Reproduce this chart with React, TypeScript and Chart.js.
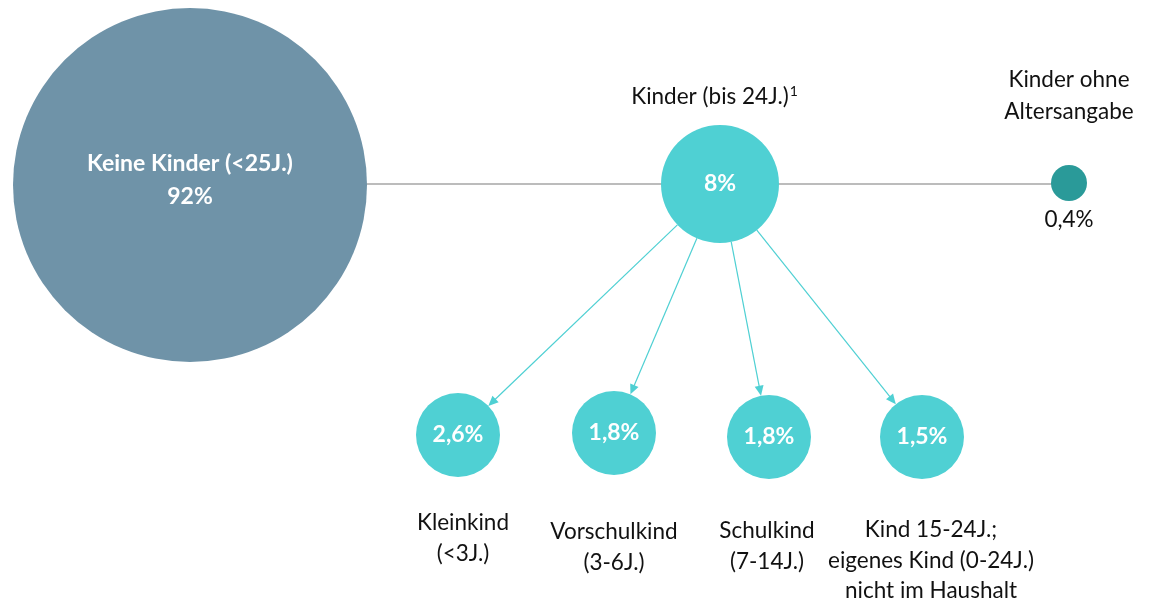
import React, { useEffect, useRef } from "react";
import { Chart, registerables } from "chart.js";

Chart.register(...registerables);

// Node data
const nodeIds = ["keine", "kinder", "ohne", "klein", "vorschul", "schul", "kind15"];
const nodeValues = ["92%", "8%", "0,4%", "2,6%", "1,8%", "1,8%", "1,5%"];
const nodeLabels: string[][] = [
  ["Keine Kinder (<25J.)"],
  ["Kinder (bis 24J.)"],
  ["Kinder ohne", "Altersangabe"],
  ["Kleinkind", "(<3J.)"],
  ["Vorschulkind", "(3-6J.)"],
  ["Schulkind", "(7-14J.)"],
  ["Kind 15-24J.;", "eigenes Kind (0-24J.)", "nicht im Haushalt"],
];
// layout (pixel grid of the diagram)
const layoutX = [190, 720, 1069, 458, 614, 769, 922];
const layoutY = [185, 184, 183, 435, 433, 437, 437];
const radii = [177, 59, 18, 42, 42, 42, 42];
const colors = ["#6f93a8", "#4fd0d3", "#2a9a99", "#4fd0d3", "#4fd0d3", "#4fd0d3", "#4fd0d3"];
// connections
const hLine = [0, 2];
const arrowFrom = 1;
const arrowTo = [3, 4, 5, 6];

const FONT = "Lato, 'Open Sans', sans-serif";

export default function App() {
  const ref = useRef<HTMLCanvasElement | null>(null);
  useEffect(() => {
    if (!ref.current) return;
    const connectors = {
      id: "connectors",
      beforeDatasetsDraw(chart: any) {
        const pts = chart.getDatasetMeta(0).data;
        const ctx = chart.ctx;
        ctx.save();
        ctx.strokeStyle = "#a6a6a6";
        ctx.lineWidth = 1.5;
        ctx.beginPath();
        ctx.moveTo(pts[hLine[0]].x, pts[1].y);
        ctx.lineTo(pts[hLine[1]].x, pts[1].y);
        ctx.stroke();
        const a = pts[arrowFrom];
        const ra = radii[arrowFrom];
        ctx.strokeStyle = "#4fd0d3";
        ctx.fillStyle = "#4fd0d3";
        ctx.lineWidth = 1.2;
        arrowTo.forEach((i) => {
          const b = pts[i];
          const dx = b.x - a.x;
          const dy = b.y - a.y;
          const len = Math.hypot(dx, dy);
          const ux = dx / len;
          const uy = dy / len;
          const sx = a.x + ux * ra;
          const sy = a.y + uy * ra;
          const ex = b.x - ux * radii[i];
          const ey = b.y - uy * radii[i];
          ctx.beginPath();
          ctx.moveTo(sx, sy);
          ctx.lineTo(ex - ux * 6, ey - uy * 6);
          ctx.stroke();
          const hl = 10;
          const hw = 4.5;
          ctx.beginPath();
          ctx.moveTo(ex, ey);
          ctx.lineTo(ex - ux * hl - uy * hw, ey - uy * hl + ux * hw);
          ctx.lineTo(ex - ux * hl + uy * hw, ey - uy * hl - ux * hw);
          ctx.closePath();
          ctx.fill();
        });
        ctx.restore();
      },
    };
    const labels = {
      id: "labels",
      afterDatasetsDraw(chart: any) {
        const pts = chart.getDatasetMeta(0).data;
        const ctx = chart.ctx;
        ctx.save();
        ctx.textAlign = "center";
        ctx.textBaseline = "middle";
        // inside text (white bold)
        ctx.fillStyle = "#ffffff";
        ctx.font = `bold 23px ${FONT}`;
        ctx.fillText(nodeLabels[0][0], pts[0].x, pts[0].y - 21);
        ctx.fillText(nodeValues[0], pts[0].x, pts[0].y + 12);
        [1, 3, 4, 5, 6].forEach((i) => {
          ctx.fillText(nodeValues[i], pts[i].x, pts[i].y);
        });
        // outside labels
        ctx.fillStyle = "#111111";
        ctx.font = `22.5px ${FONT}`;
        // Kinder (bis 24J.) with superscript
        const t = nodeLabels[1][0];
        const w = ctx.measureText(t).width;
        const cx = pts[1].x - 10;
        const ty = pts[1].y - 87;
        ctx.textAlign = "left";
        ctx.fillText(t, cx - w / 2, ty);
        ctx.font = `14px ${FONT}`;
        ctx.fillText("1", cx + w / 2 + 1, ty - 6);
        ctx.textAlign = "center";
        ctx.font = `22.5px ${FONT}`;
        // ohne Altersangabe
        ctx.fillText(nodeLabels[2][0], pts[2].x, pts[2].y - 103);
        ctx.fillText(nodeLabels[2][1], pts[2].x, pts[2].y - 71);
        ctx.fillText(nodeValues[2], pts[2].x, pts[2].y + 37);
        // bottom labels
        const offs = [88, 99, 94, 93];
        const dxs = [5, 0, -2, 9];
        [3, 4, 5, 6].forEach((i, k) => {
          nodeLabels[i].forEach((line, j) => {
            ctx.fillText(line, pts[i].x + dxs[k], pts[i].y + offs[k] + j * 30.5);
          });
        });
        ctx.restore();
      },
    };
    const chart = new Chart(ref.current, {
      type: "bubble",
      data: {
        datasets: [
          {
            data: nodeIds.map((_, i) => ({ x: layoutX[i], y: layoutY[i], r: radii[i] })),
            backgroundColor: colors,
            borderColor: colors,
            borderWidth: 0,
            clip: false as any,
          },
        ],
      },
      options: {
        animation: false,
        responsive: true,
        maintainAspectRatio: false,
        layout: { padding: 0, autoPadding: false },
        scales: {
          x: { type: "linear", min: 0, max: 1153, display: false },
          y: { type: "linear", min: 0, max: 602, reverse: true, display: false },
        },
        plugins: {
          legend: { display: false },
          tooltip: { enabled: false },
        },
        elements: { point: { hoverRadius: 0 } },
      },
      plugins: [connectors, labels],
    });
    return () => chart.destroy();
  }, []);
  return (
    <div style={{ position: "fixed", left: 0, top: 0, width: 1153, height: 602, background: "#fff" }}>
      <canvas ref={ref} />
    </div>
  );
}
